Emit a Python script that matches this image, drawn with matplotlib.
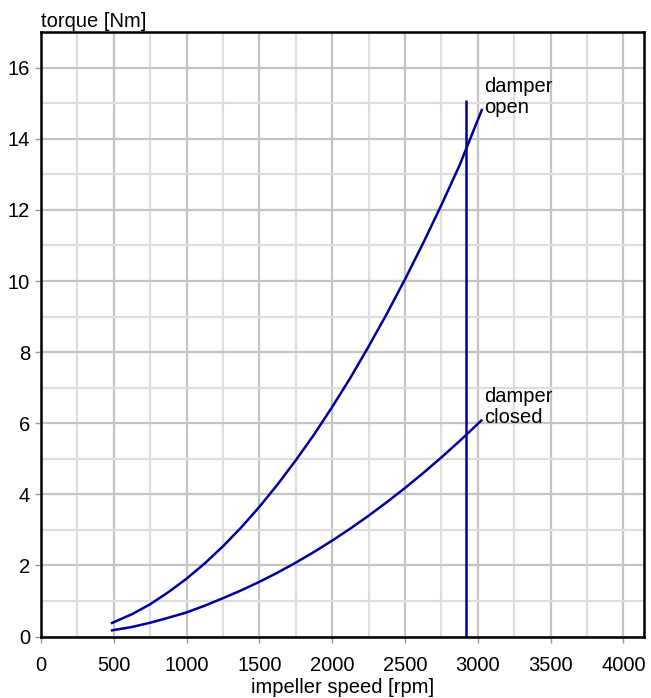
import matplotlib
matplotlib.use('Agg')
import matplotlib.pyplot as plt
from matplotlib.ticker import MultipleLocator

# ================== DATA ==================
speed = [480, 625, 750, 875, 1000, 1125, 1250, 1375, 1500, 1625, 1750, 1875,
         2000, 2125, 2250, 2375, 2500, 2625, 2750, 2875, 3030]
torque_open = [0.37, 0.63, 0.91, 1.25, 1.63, 2.06, 2.54, 3.07, 3.65, 4.28, 4.96, 5.68,
               6.46, 7.28, 8.16, 9.08, 10.05, 11.07, 12.14, 13.26, 14.84]
torque_closed = [0.17, 0.27, 0.39, 0.53, 0.68, 0.87, 1.08, 1.30, 1.54, 1.80, 2.08, 2.38,
                 2.70, 3.04, 3.40, 3.78, 4.18, 4.60, 5.04, 5.50, 6.10]
nominal_speed = 2916
nominal_top = 15.1
xticks = [0, 500, 1000, 1500, 2000, 2500, 3000, 3500, 4000]
yticks = [0, 2, 4, 6, 8, 10, 12, 14, 16]

LINE = '#000099'
FS = 14.5
plt.rcParams['font.family'] = ['Liberation Sans', 'DejaVu Sans']

fig = plt.figure(figsize=(6.51, 6.98), dpi=100)
ax = fig.add_axes([0.063, 0.088, 0.926, 0.866])

ax.set_xlim(0, 4140)
ax.set_ylim(0, 17)
ax.set_xticks(xticks)
ax.set_yticks(yticks)
ax.xaxis.set_minor_locator(MultipleLocator(250))
ax.yaxis.set_minor_locator(MultipleLocator(1))
ax.grid(which='major', color='#c4c4c4', linewidth=1.6)
ax.grid(which='minor', color='#dedede', linewidth=1.6)
ax.set_axisbelow(True)
ax.tick_params(which='major', length=4, width=1, color='#999999', labelsize=FS)
ax.tick_params(axis='x', pad=10)
ax.tick_params(axis='y', pad=4)
ax.tick_params(which='minor', length=0)
for s in ax.spines.values():
    s.set_linewidth(1.8)
    s.set_color('black')

ax.plot(speed, torque_open, color=LINE, linewidth=1.8, solid_capstyle='butt')
ax.plot(speed, torque_closed, color=LINE, linewidth=1.8, solid_capstyle='butt')
ax.plot([nominal_speed, nominal_speed], [0, nominal_top], color=LINE, linewidth=1.8,
        solid_capstyle='butt')

ax.text(3045, 15.75, 'damper\nopen', fontsize=FS, va='top', ha='left', linespacing=1.15)
ax.text(3045, 7.03, 'damper\nclosed', fontsize=FS, va='top', ha='left', linespacing=1.15)

fig.text(0.063, 0.9613, 'torque [Nm]', fontsize=FS, ha='left', va='baseline')
ax.set_xlabel('impeller speed [rpm]', fontsize=FS, labelpad=2)

fig.savefig('out.png', dpi=100)
